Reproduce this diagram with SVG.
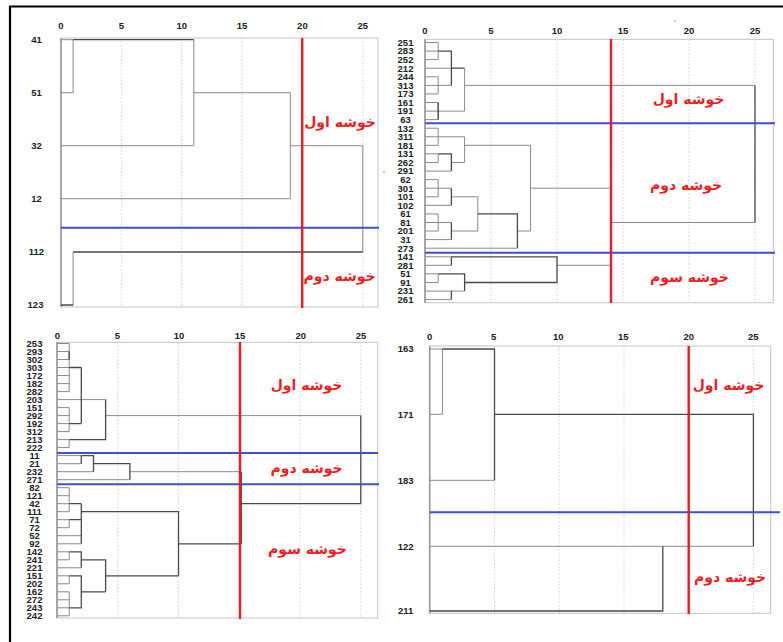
<svg xmlns="http://www.w3.org/2000/svg" width="783" height="642" viewBox="0 0 783 642">
<style>
.bg{fill:#fff}
.frame{fill:none;stroke:#000;stroke-width:2.2}
.box{fill:none;stroke:#c4c4c4;stroke-width:1}
.axis{stroke:#999;stroke-width:1.6}
.grid{stroke:#cfcfcf;stroke-width:1;stroke-dasharray:1.5 2}
.dl{fill:none;stroke:#8a8a8a;stroke-width:1}
.dk{fill:none;stroke:#4a4a4a;stroke-width:1.3}
.cut{stroke:#f2191e;stroke-width:2.4}
.sep{stroke:#3f4ed6;stroke-width:2}
.tk,.lb{font-family:"Liberation Sans",Arial,sans-serif;font-weight:bold;font-size:9.5px;fill:#222;text-anchor:middle}
.cl{font-family:"DejaVu Sans",sans-serif;font-weight:bold;font-size:14px;fill:#f01e1e;text-anchor:middle}
</style>
<rect class="bg" x="0" y="0" width="783" height="642"/>
<path class="frame" d="M10,642 V6.5 H783"/>
<circle cx="384" cy="172" r="0.8" fill="#888"/>
<circle cx="675" cy="21" r="0.7" fill="#888"/>

<!-- Panel 1 -->
<g id="panel1">
<rect class="box" x="61" y="38" width="317" height="269"/>
<path class="grid" d="M121.4,38 V307 M181.7,38 V307 M242,38 V307 M302.4,38 V307 M362.8,38 V307"/>
<line class="axis" x1="61" y1="38" x2="61" y2="307"/>
<g class="tk">
<text x="61" y="28.5">0</text><text x="121.4" y="28.5">5</text><text x="181.7" y="28.5">10</text><text x="242" y="28.5">15</text><text x="302.4" y="28.5">20</text><text x="362.8" y="28.5">25</text>
</g>
<g class="lb">
<text x="36.5" y="43">41</text><text x="36.5" y="96">51</text><text x="36.5" y="149">32</text><text x="36.5" y="202">12</text><text x="36.5" y="255.3">112</text><text x="35.5" y="308.3">123</text>
</g>
<g id="links1">
<path class="dl" d="M61,39.7 H73.1 M61,92.7 H73.1 V39.7 M193.8,39.7 V145.7 M193.8,92.7 H290.3 M61,145.7 H193.8 M290.3,92.7 V198.7 M61,198.7 H290.3 M290.3,145.7 H362.8 M362.8,145.7 V252 M73.1,252 V305"/>
<path class="dk" d="M73.1,39.7 H193.8 M73.1,252 H362.8 M61,305 H73.1"/>
</g>
<line class="sep" x1="61" y1="227.7" x2="379" y2="227.7"/>
<line class="cut" x1="302.2" y1="38" x2="302.2" y2="308"/>
<text class="cl" x="340" y="127">خوشه اول</text>
<text class="cl" x="339.5" y="281">خوشه دوم</text>
</g>

<!-- Panel 2 -->
<g id="panel2">
<rect class="box" x="425" y="39.3" width="348.3" height="263.4"/>
<path class="grid" d="M491,39.3 V302.7 M557,39.3 V302.7 M623,39.3 V302.7 M689,39.3 V302.7 M755,39.3 V302.7"/>
<line class="axis" x1="425" y1="39.3" x2="425" y2="302.7"/>
<g class="tk">
<text x="425" y="34">0</text><text x="491" y="34">5</text><text x="557" y="34">10</text><text x="623" y="34">15</text><text x="689" y="34">20</text><text x="755" y="34">25</text>
</g>
<g class="lb">
<text x="405.5" y="45.8">251</text><text x="405.5" y="54.4">283</text><text x="405.5" y="62.9">252</text><text x="405.5" y="71.5">212</text><text x="405.5" y="80.1">244</text><text x="405.5" y="88.7">313</text><text x="405.5" y="97.2">173</text><text x="405.5" y="105.8">161</text><text x="405.5" y="114.4">191</text><text x="405.5" y="122.9">63</text>
<text x="405.5" y="131.5">132</text><text x="405.5" y="140.1">311</text><text x="405.5" y="148.6">181</text><text x="405.5" y="157.2">131</text><text x="405.5" y="165.8">262</text><text x="405.5" y="174.4">291</text><text x="405.5" y="182.9">62</text><text x="405.5" y="191.5">301</text><text x="405.5" y="200.1">101</text><text x="405.5" y="208.6">102</text><text x="405.5" y="217.2">61</text><text x="405.5" y="225.8">81</text><text x="405.5" y="234.3">201</text><text x="405.5" y="242.9">31</text><text x="405.5" y="251.5">273</text>
<text x="405.5" y="260.1">141</text><text x="405.5" y="268.6">281</text><text x="405.5" y="277.2">51</text><text x="405.5" y="285.8">91</text><text x="405.5" y="294.4">231</text><text x="405.5" y="302.9">261</text>
</g>
<g id="links2">
<path class="dl" d="M425,42.5 H438.2 M425,59.6 H438.2 M438.2,42.5 V59.6 M425,51.1 H438.2 M425,76.8 H438.2 M425,93.9 H438.2 M438.2,76.8 V93.9 M425,85.4 H451.4 M464.6,85.4 H755 M425,68.2 H451.4 M425,102.5 H438.2 M425,119.6 H438.2 M438.2,102.5 V119.6 M425,111.1 H464.6 M464.6,68.2 V111.1"/>
<path class="dk" d="M438.2,51.1 H451.4 V85.4 M451.4,68.2 H464.6 M438.2,102.5 V119.6"/>
<path class="dl" d="M425,128.2 H438.2 M425,145.3 H438.2 M438.2,128.2 V145.3 M425,136.8 H464.6 M425,153.9 H438.2 M425,162.5 H438.2 M438.2,153.9 V162.5 M425,171.1 H451.4 M451.4,162.5 H464.6 M464.6,136.8 V162.5 M464.6,145.3 H530.6 M530.6,145.3 V231 M530.6,188.2 H611.5"/>
<path class="dk" d="M438.2,153.9 H451.4 V171.1"/>
<path class="dl" d="M425,179.6 H438.2 M425,196.8 H438.2 M438.2,179.6 V196.8 M425,188.2 H451.4 M425,205.3 H451.4 M451.4,196.8 H477.8 M425,213.9 H438.2 M425,231 H438.2 M438.2,213.9 V231 M425,222.5 H451.4 M425,239.6 H451.4 M451.4,231 H477.8 M477.8,196.8 V231 M425,248.2 H517.4 M517.4,231 H530.6"/>
<path class="dk" d="M451.4,188.2 V205.3 M451.4,222.5 V239.6 M477.8,213.9 H517.4 V248.2"/>
<path class="dl" d="M425,256.8 H451.4 M425,265.3 H451.4 M425,273.9 H438.2 M425,282.5 H438.2 M438.2,273.9 V282.5 M425,291.1 H464.6 M425,299.6 H451.4 M557,265.3 H611.5 M611.5,188.2 V265.3 M611.5,222.5 H755"/>
<path class="dk" d="M451.4,256.8 H557 V282.5 H464.6 M451.4,256.8 V265.3 M438.2,273.9 H464.6 V291.1 M451.4,291.1 V299.6 M755,85.4 V222.5"/>
</g>
<line class="sep" x1="425" y1="123.3" x2="775" y2="123.3"/>
<line class="sep" x1="425" y1="252.8" x2="775" y2="252.8"/>
<line class="cut" x1="611" y1="39" x2="611" y2="303"/>
<text class="cl" x="688.5" y="104">خوشه اول</text>
<text class="cl" x="686" y="190">خوشه دوم</text>
<text class="cl" x="689.5" y="282">خوشه سوم</text>
</g>

<!-- Panel 3 -->
<g id="panel3">
<rect class="box" x="57" y="342.3" width="320.7" height="275.7"/>
<path class="grid" d="M117.8,342.3 V618 M178.5,342.3 V618 M239.3,342.3 V618 M300,342.3 V618 M360.8,342.3 V618"/>
<line class="axis" x1="57" y1="342.3" x2="57" y2="618"/>
<g class="tk">
<text x="57.3" y="338.5">0</text><text x="117.5" y="338.5">5</text><text x="179" y="338.5">10</text><text x="240" y="338.5">15</text><text x="300.7" y="338.5">20</text><text x="361" y="338.5">25</text>
</g>
<g class="lb">
<text x="34.5" y="346.8">253</text><text x="34.5" y="354.8">293</text><text x="34.5" y="362.8">302</text><text x="34.5" y="370.8">303</text><text x="34.5" y="378.8">172</text><text x="34.5" y="386.9">182</text><text x="34.5" y="394.9">282</text><text x="34.5" y="402.9">203</text><text x="34.5" y="410.9">151</text><text x="34.5" y="418.9">292</text><text x="34.5" y="426.9">192</text><text x="34.5" y="434.9">312</text><text x="34.5" y="442.9">213</text><text x="34.5" y="450.9">222</text>
<text x="34.5" y="458.9">11</text><text x="34.5" y="467">21</text><text x="34.5" y="475">232</text><text x="34.5" y="483">271</text>
<text x="34.5" y="491">82</text><text x="34.5" y="499">121</text><text x="34.5" y="507">42</text><text x="34.5" y="515">111</text><text x="34.5" y="523">71</text><text x="34.5" y="531">72</text><text x="34.5" y="539">52</text><text x="34.5" y="547.1">92</text><text x="34.5" y="555.1">142</text><text x="34.5" y="563.1">241</text><text x="34.5" y="571.1">221</text><text x="34.5" y="579.1">151</text><text x="34.5" y="587.1">202</text><text x="34.5" y="595.1">162</text><text x="34.5" y="603.1">272</text><text x="34.5" y="611.1">243</text><text x="34.5" y="619.1">242</text>
</g>
<g id="links3">
<path class="dl" d="M57,343.5 H69.2 M57,351.5 H69.2 M57,359.5 H69.2 M57,367.5 H69.2 M57,375.5 H69.2 M57,383.6 H69.2 M57,391.6 H69.2 M69.2,343.5 V391.6 M57,407.6 H69.2 M57,415.6 H69.2 M57,423.6 H69.2 M57,431.6 H69.2 M69.2,407.6 V431.6 M57,399.6 H105.6 M57,439.6 H69.2 M57,447.6 H69.2 M69.2,439.6 V447.6 M105.6,415.6 H360.8"/>
<path class="dk" d="M69.2,367.5 H81.3 M69.2,423.6 H81.3 M81.3,367.5 V423.6 M69.2,439.6 H105.6 V399.6 M69.2,351.5 V359.5"/>
<path class="dl" d="M57,455.6 H81.3 M57,463.7 H81.3 M57,471.7 H93.5 M57,479.7 H129.9 M129.9,471.7 H239.3"/>
<path class="dk" d="M81.3,455.6 V463.7 M81.3,455.6 H93.5 V471.7 M93.5,463.7 H129.9 V479.7"/>
<path class="dl" d="M57,487.7 H69.2 M57,495.7 H69.2 M57,503.7 H69.2 M57,511.7 H69.2 M69.2,487.7 V511.7 M57,519.7 H69.2 M57,527.7 H69.2 M69.2,519.7 V527.7 M57,535.7 H81.3 M57,543.8 H81.3 M57,551.8 H69.2 M57,559.8 H69.2 M69.2,551.8 V559.8 M57,567.8 H81.3 M57,575.8 H69.2 M57,583.8 H69.2 M69.2,575.8 V583.8 M57,591.8 H69.2 M57,599.8 H69.2 M57,607.8 H69.2 M57,615.8 H69.2 M69.2,591.8 V615.8"/>
<path class="dk" d="M69.2,503.7 H81.3 M69.2,519.7 H81.3 M81.3,503.7 V543.8 M81.3,511.7 H178.5 V575.8 M178.5,543.8 H239.3 M69.2,551.8 H81.3 V567.8 M81.3,559.8 H105.6 V591.8 M69.2,575.8 H81.3 V607.8 H69.2 M81.3,591.8 H105.6 M105.6,575.8 H178.5"/>
<path class="dk" d="M241.3,471.7 V543.8 M241.3,503.7 H360.8 M360.8,415.6 V503.7"/>
</g>
<line class="sep" x1="57" y1="453" x2="378" y2="453"/>
<line class="sep" x1="57" y1="484.3" x2="379" y2="484.3"/>
<line class="cut" x1="240" y1="342" x2="240" y2="619"/>
<text class="cl" x="306.5" y="390">خوشه اول</text>
<text class="cl" x="306.5" y="473">خوشه دوم</text>
<text class="cl" x="307.5" y="554">خوشه سوم</text>
</g>

<!-- Panel 4 -->
<g id="panel4">
<rect class="box" x="429.7" y="346" width="341" height="267.3"/>
<path class="grid" d="M494.5,346 V613.3 M559.2,346 V613.3 M624,346 V613.3 M688.7,346 V613.3 M753.4,346 V613.3"/>
<line class="axis" x1="429.7" y1="346" x2="429.7" y2="613.3"/>
<g class="tk">
<text x="429.7" y="339.5">0</text><text x="493.7" y="339.5">5</text><text x="558.3" y="339.5">10</text><text x="623.3" y="339.5">15</text><text x="688.7" y="339.5">20</text><text x="753.3" y="339.5">25</text>
</g>
<g class="lb">
<text x="405.7" y="352.3">163</text><text x="405.7" y="417.6">171</text><text x="405.7" y="483.6">183</text><text x="405.7" y="549.6">122</text><text x="405.7" y="614.3">211</text>
</g>
<g id="links4">
<path class="dl" d="M429.7,349 H442.6 V414.3 H429.7 M429.7,480.3 H494.5 M429.7,546.3 H753.4"/>
<path class="dk" d="M442.6,349 H494.5 V480.3 M494.5,414.3 H753.4 V546.3 M662.8,546.3 V611 H429.7"/>
</g>
<line class="sep" x1="429.7" y1="512.3" x2="780" y2="512.3"/>
<line class="cut" x1="688.7" y1="346" x2="688.7" y2="614"/>
<text class="cl" x="728.5" y="390">خوشه اول</text>
<text class="cl" x="730" y="582">خوشه دوم</text>
</g>
</svg>
